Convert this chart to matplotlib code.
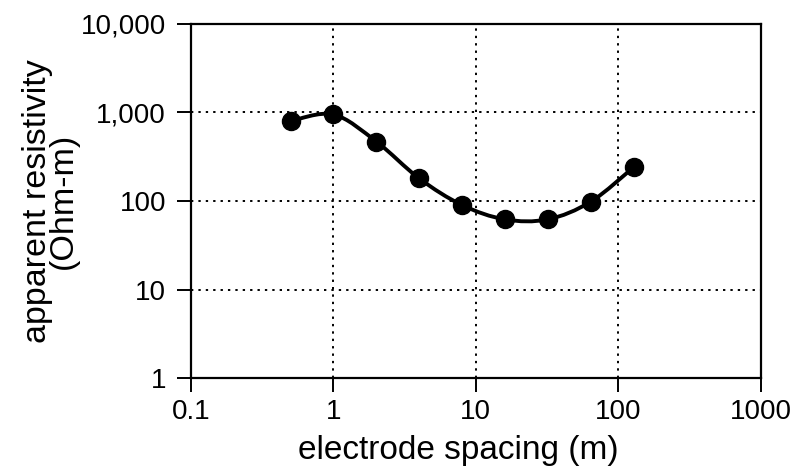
import numpy as np
import matplotlib
matplotlib.use("Agg")
import matplotlib.pyplot as plt
from matplotlib.path import Path
from matplotlib.patches import PathPatch
from matplotlib.ticker import FixedLocator, NullLocator

# sounding data
spacing = [0.5, 1, 2, 4, 8, 16, 32, 64, 128]
resistivity = [800, 950, 470, 180, 90, 62, 62, 98, 240]

x_ticks = [0.1, 1, 10, 100, 1000]
x_labels = ["0.1", "1", "10", "100", "1000"]
y_ticks = [1, 10, 100, 1000, 10000]
y_labels = ["1", "10", "100", "1,000", "10,000"]

plt.rcParams['font.family'] = ['Liberation Sans', 'DejaVu Sans']


def smooth_path(xs, ys):
    # catmull-rom through the points, done in log space, as bezier segments
    p = np.column_stack([np.log10(xs), np.log10(ys)])
    n = len(p)
    verts = [p[0]]
    codes = [Path.MOVETO]
    for i in range(n - 1):
        p0 = p[i - 1] if i > 0 else p[i]
        p1, p2 = p[i], p[i + 1]
        p3 = p[i + 2] if i + 2 < n else p[i + 1]
        verts += [p1 + (p2 - p0) / 6, p2 - (p3 - p1) / 6, p2]
        codes += [Path.CURVE4] * 3
    return Path(10 ** np.array(verts), codes)


fig = plt.figure(figsize=(7.94, 4.74), dpi=100)
ax = fig.add_axes([0.2406, 0.2025, 0.958 - 0.2406, 0.9494 - 0.2025])
ax.set_xscale('log')
ax.set_yscale('log')
ax.set_xlim(0.1, 1000)
ax.set_ylim(1, 10000)

ax.add_patch(PathPatch(smooth_path(spacing, resistivity), fill=False,
                       edgecolor='black', lw=2.8, zorder=3))
ax.plot(spacing, resistivity, 'o', color='black', ms=13, zorder=4)

ax.xaxis.set_major_locator(FixedLocator(x_ticks))
ax.yaxis.set_major_locator(FixedLocator(y_ticks))
ax.xaxis.set_minor_locator(NullLocator())
ax.yaxis.set_minor_locator(NullLocator())
ax.set_xticklabels(x_labels)
ax.set_yticklabels(y_labels)
ax.tick_params(direction='out', length=10, width=1.4, labelsize=20)
ax.tick_params(axis='x', pad=5)
ax.tick_params(axis='y', pad=8)

ax.grid(True, which='major', color='black', linestyle=(0, (1.2, 2.6)), lw=1.4)
for s in ax.spines.values():
    s.set_linewidth(1.6)

ax.set_xlabel('electrode spacing (m)', fontsize=24)
ax.xaxis.set_label_coords(0.47, -0.16)
ax.xaxis.label.set_va('top')
ax.set_ylabel('apparent resistivity\n(Ohm-m)', fontsize=24.5, linespacing=0.8)
ax.yaxis.set_label_coords(-0.197, 0.5)

fig.savefig('out.png', dpi=100)
